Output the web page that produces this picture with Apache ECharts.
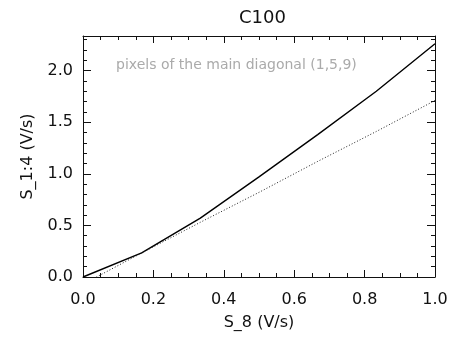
<!DOCTYPE html>
<html>
<head>
<meta charset="utf-8">
<script src="https://cdn.jsdelivr.net/npm/echarts@6/dist/echarts.min.js"></script>
<style>
html,body{margin:0;padding:0;background:#fff;}
#chart{width:463px;height:341px;}
</style>
</head>
<body>
<div id="chart"></div>
<script>
// Data
const xValues = [0, 0.1667, 0.3333, 0.5, 0.6667, 0.8333, 1.0];
const solidValues = [0.0, 0.233, 0.57, 0.97, 1.38, 1.80, 2.26];
const dottedValues = [-0.07, 0.233, 0.53, 0.82, 1.12, 1.41, 1.71];
const titleText = 'C100';
const xName = 'S_8 (V/s)';
const yName = 'S_1:4 (V/s)';
const noteText = 'pixels of the main diagonal (1,5,9)';

const FONT = 'DejaVu Sans';
const INK = '#111';

const chart = echarts.init(document.getElementById('chart'), null, {renderer: 'canvas'});

function pairs(xs, ys) { return xs.map((x, i) => [x, ys[i]]); }

const yMin = 0, yMax = 2.335;

const baseX = {
  type: 'value', min: 0, max: 1, interval: 0.2,
  axisLine: {show: true, onZero: false, lineStyle: {color: INK, width: 1}},
  axisTick: {show: true, inside: true, length: 7, lineStyle: {color: INK}},
  minorTick: {show: true, splitNumber: 4, length: 4, lineStyle: {color: INK}},
  splitLine: {show: false}, minorSplitLine: {show: false}
};
const baseYMajor = {
  type: 'value', min: yMin, max: yMax, interval: 0.5,
  axisLine: {show: true, onZero: false, lineStyle: {color: INK, width: 1}},
  axisTick: {show: true, inside: true, length: 8, lineStyle: {color: INK}},
  splitLine: {show: false}
};
const baseYMinor = {
  type: 'value', min: yMin, max: yMax, interval: 0.1,
  axisLine: {show: false, onZero: false},
  axisTick: {show: true, inside: true, length: 4, lineStyle: {color: INK}},
  axisLabel: {show: false},
  splitLine: {show: false}
};

chart.setOption({
  animation: false,
  backgroundColor: '#fff',
  title: {
    text: titleText, left: 234, top: 4,
    textStyle: {fontFamily: FONT, fontSize: 18, fontWeight: 'normal', color: INK}
  },
  grid: {left: 83, top: 36, width: 352, height: 241, containLabel: false},
  xAxis: [
    Object.assign({}, baseX, {
      position: 'bottom',
      name: xName, nameLocation: 'middle', nameGap: 38,
      nameTextStyle: {fontFamily: FONT, fontSize: 16, color: INK},
      axisLabel: {show: true, margin: 15, fontFamily: FONT, fontSize: 16, color: INK,
        formatter: v => v.toFixed(1)}
    }),
    Object.assign({}, baseX, {position: 'top', axisLabel: {show: false}})
  ],
  yAxis: [
    Object.assign({}, baseYMajor, {
      position: 'left',
      name: yName, nameLocation: 'middle', nameGap: 47, nameRotate: 90,
      nameTextStyle: {fontFamily: FONT, fontSize: 16, color: INK},
      axisLabel: {show: true, margin: 10, fontFamily: FONT, fontSize: 16, color: INK,
        showMaxLabel: false, formatter: v => v.toFixed(1)}
    }),
    Object.assign({}, baseYMajor, {position: 'right', axisLabel: {show: false}}),
    Object.assign({}, baseYMinor, {position: 'left'}),
    Object.assign({}, baseYMinor, {position: 'right'})
  ],
  graphic: [{
    type: 'text', left: 116, top: 58, silent: true,
    style: {text: noteText, fontFamily: FONT, fontSize: 14, fill: '#aaaaaa'}
  }],
  series: [
    {
      type: 'line', xAxisIndex: 0, yAxisIndex: 0, data: pairs(xValues, solidValues),
      showSymbol: false, clip: true,
      lineStyle: {color: '#000', width: 1.4, type: 'solid'}
    },
    {
      type: 'line', xAxisIndex: 0, yAxisIndex: 0, data: pairs(xValues, dottedValues),
      showSymbol: false, clip: true,
      lineStyle: {color: '#222', width: 1, type: [1, 2]}
    }
  ]
});
</script>
</body>
</html>
